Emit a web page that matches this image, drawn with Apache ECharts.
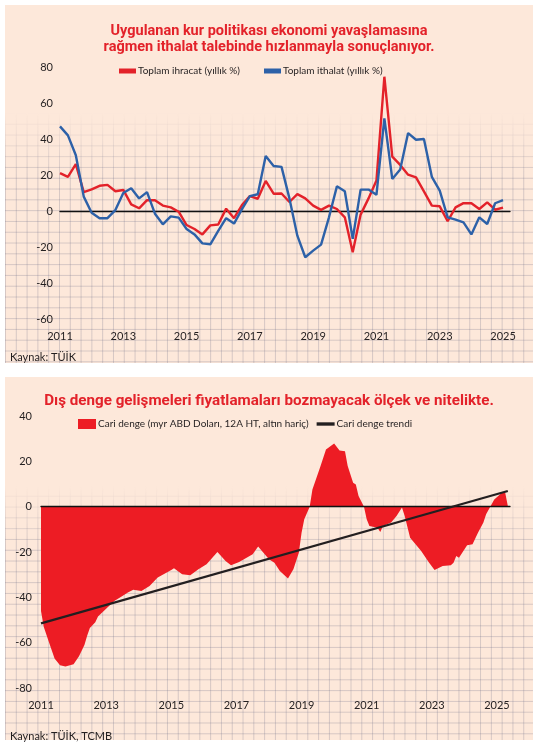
<!DOCTYPE html>
<html><head><meta charset="utf-8">
<script src="https://cdn.jsdelivr.net/npm/echarts@6/dist/echarts.min.js"></script>
<style>
html,body{margin:0;padding:0;background:#fff;width:538px;height:745px;overflow:hidden;}
.panel{position:absolute;left:5px;width:528px;background:#fde8da;overflow:hidden}
.panel::before{content:'';position:absolute;left:0;top:0;right:0;bottom:0;
 background-image:linear-gradient(to right, rgba(110,110,135,0.27) 1px, transparent 1px),linear-gradient(to bottom, rgba(110,110,135,0.27) 1px, transparent 1px);
 background-size:10.8px 10.8px;}
#p1{top:5px;height:358px}
#p2{top:377px;height:363px}
#p1::before{-webkit-mask-image:linear-gradient(to bottom,transparent 0%,transparent 30%,#000 48%);mask-image:linear-gradient(to bottom,transparent 0%,transparent 30%,#000 48%);}
#p2::before{-webkit-mask-image:linear-gradient(to bottom,transparent 0%,transparent 30%,#000 46%);mask-image:linear-gradient(to bottom,transparent 0%,transparent 30%,#000 46%);}
#chart{position:absolute;left:0;top:0;width:538px;height:745px}
</style>
</head><body>
<div class="panel" id="p1"></div>
<div class="panel" id="p2"></div>
<div id="chart"></div>
<script>
// ---- Chart 1: exports / imports, yearly % change (quarterly)
const quarters = ["2011Q1","2011Q2","2011Q3","2011Q4","2012Q1","2012Q2","2012Q3","2012Q4",
"2013Q1","2013Q2","2013Q3","2013Q4","2014Q1","2014Q2","2014Q3","2014Q4",
"2015Q1","2015Q2","2015Q3","2015Q4","2016Q1","2016Q2","2016Q3","2016Q4",
"2017Q1","2017Q2","2017Q3","2017Q4","2018Q1","2018Q2","2018Q3","2018Q4",
"2019Q1","2019Q2","2019Q3","2019Q4","2020Q1","2020Q2","2020Q3","2020Q4",
"2021Q1","2021Q2","2021Q3","2021Q4","2022Q1","2022Q2","2022Q3","2022Q4",
"2023Q1","2023Q2","2023Q3","2023Q4","2024Q1","2024Q2","2024Q3","2024Q4","2025Q1"];
const exportsYoY = [21, 19, 26, 10.5, 12, 14, 14.5, 11, 11.7, 3.7, 1.5, 6, 6, 3, 2, -0.4,
 -7.8, -10, -13, -8, -7.5, 1.3, -4, 3.3, 8.3, 6.8, 16.7, 9.6, 9.7, 5, 9.4, 7,
 3, 0.6, 3, 1.1, -3.5, -22.9, -2, 7, 16.9, 74.6, 30.2, 25.6, 20.2, 18.7, 10.9, 3,
 2.6, -5.7, 2, 4.4, 4.3, 1.1, 4.8, 0.7, 1.9];
const importsYoY = [47, 42, 31, 8, -1, -4, -4, 0.5, 10, 12.6, 7, 10.5, -1.5, -7.4, -3, -3.7,
 -10, -13, -18, -18.5, -11, -4, -7, 1, 8.3, 9.3, 30.5, 25, 24.5, 7, -13.7, -25.7,
 -22, -18.7, -3.5, 13.7, 11, -15.5, 11.9, 11.9, 9, 51.5, 17.8, 23, 43.3, 39.6, 40, 19,
 11.3, -3.5, -4.8, -6.3, -13, -3.5, -7.2, 4.3, 6.1];
const yTicks1 = [-60, -40, -20, 0, 20, 40, 60, 80];
const xTicks = [2011, 2013, 2015, 2017, 2019, 2021, 2023, 2025];

// ---- Chart 2: current account balance (bn USD, 12m rolling, excl. gold)
const months = ["2011-01","2011-02","2011-04","2011-06","2011-08","2011-10","2012-01","2012-03",
"2012-05","2012-06","2012-07","2012-09","2012-10","2013-01","2013-04","2013-07","2013-09","2013-11",
"2014-02","2014-05","2014-08","2015-01","2015-02","2015-05","2015-08","2015-11","2016-02","2016-06",
"2016-09","2016-11","2017-02","2017-07","2017-09","2018-01","2018-03","2018-05","2018-08","2018-10",
"2018-12","2019-01","2019-02","2019-04","2019-05","2019-08","2019-10","2020-01","2020-03","2020-05",
"2020-06","2020-08","2020-09","2020-10","2020-12","2021-01","2021-02","2021-05","2021-06","2021-07",
"2021-10","2021-12","2022-02","2022-03","2022-05","2022-07","2022-09","2022-12","2023-02","2023-05",
"2023-08","2023-09","2023-10","2023-11","2024-02","2024-04","2024-06","2024-08","2024-09","2024-12",
"2025-03","2025-04","2025-05"];
const currentAccount = [-46, -53, -60, -67, -70, -70.5, -69.5, -66,
 -61, -57, -53.5, -51, -48.5, -45, -41.6, -39.4, -37.9, -36.7,
 -37.2, -35, -31.3, -27.9, -27.2, -29.8, -30.3, -27.6, -25.4, -20,
 -24, -25.9, -24.4, -21, -17.6, -23.2, -24.7, -28.4, -31.7, -27.6,
 -20.3, -11.5, -5.6, 0, 7.6, 17.9, 25.2, 27.9, 24.8, 24.5,
 17.9, 10.6, 9.8, 4.7, 0, -5.6, -8.5, -9.3, -11.2, -8.5,
 -7, -4.1, -0.4, -4.1, -13.7, -16.6, -19.5, -24.7, -27.9, -26.2,
 -25.9, -24.7, -21.8, -22.5, -17, -16.6, -11.5, -7, -3.4, 3.2,
 6.4, 6.4, 0.3];
const trendMonths = ["2011-01", "2025-05"];
const trendValues = [-51.5, 6.9];
const yTicks2 = [-80, -60, -40, -20, 0, 20, 40];

const qToYear = s => Number(s.slice(0,4)) + (Number(s.slice(5)) - 1) / 4;
const mToYear = s => Number(s.slice(0,4)) + (Number(s.slice(5)) - 1) / 12;

const RED = '#e3222a', BLUE = '#2d61a8', INK = '#231f20';
const FONT = 'Lato, "Noto Sans", sans-serif';
const TFONT = 'Roboto, "Noto Sans", sans-serif';

const xLabel = v => xTicks.includes(v) ? String(v) : '';

const chart = echarts.init(document.getElementById('chart'), null, {renderer:'canvas'});
chart.setOption({
  animation:false,
  backgroundColor:'transparent',
  textStyle:{fontFamily:FONT},
  title:[
    {text:'Uygulanan kur politikası ekonomi yavaşlamasına\nrağmen ithalat talebinde hızlanmayla sonuçlanıyor.',
     left:264, top:18, textAlign:'center',
     textStyle:{color:RED, fontSize:14.5, fontWeight:'bold', fontFamily:TFONT, lineHeight:16}},
    {text:'Dış denge gelişmeleri fiyatlamaları bozmayacak ölçek ve nitelikte.',
     left:264, top:389, textAlign:'center',
     textStyle:{color:RED, fontSize:15.2, fontWeight:'bold', fontFamily:TFONT}},
    {text:'Kaynak: TÜİK', left:5, top:347, textStyle:{color:INK, fontSize:11, fontWeight:'normal', fontFamily:FONT}},
    {text:'Kaynak: TÜİK, TCMB', left:5, top:726, textStyle:{color:INK, fontSize:11, fontWeight:'normal', fontFamily:FONT}}
  ],
  legend:[
    {data:['Toplam ihracat (yıllık %)','Toplam ithalat (yıllık %)'], left:114, top:61,
     icon:'rect', itemWidth:17, itemHeight:5, itemGap:24,
     textStyle:{color:INK, fontSize:10, fontFamily:FONT, padding:[0,0,0,-3]}},
    {data:[{name:'Cari denge (myr ABD Doları, 12A HT, altın hariç)', icon:'rect'},
           {name:'Cari denge trendi', icon:'path://M0,0h16v3h-16z'}],
     left:73, top:414, itemWidth:18, itemHeight:10, itemGap:8,
     textStyle:{color:INK, fontSize:10, fontFamily:FONT, padding:[0,0,0,-3]}}
  ],
  grid:[
    {left:60, right:28, top:67, bottom:426},
    {left:41, right:28, top:416, bottom:57}
  ],
  xAxis:[
    {type:'value', gridIndex:0, min:2011, max:2025.22, interval:1,
     axisLine:{onZero:true, lineStyle:{color:'#111', width:1.3}}, axisTick:{show:false},
     splitLine:{show:false},
     axisLabel:{formatter:xLabel, color:INK, fontSize:11, margin:12, showMaxLabel:false}},
    {type:'value', gridIndex:1, min:2011, max:2025.4, interval:1, z:5,
     axisLine:{onZero:true, lineStyle:{color:'#111', width:1.3}}, axisTick:{show:false},
     splitLine:{show:false},
     axisLabel:{formatter:xLabel, color:INK, fontSize:11, margin:12, showMaxLabel:false}}
  ],
  yAxis:[
    {type:'value', gridIndex:0, min:yTicks1[0], max:yTicks1[yTicks1.length-1], interval:20,
     axisLine:{show:false}, axisTick:{show:false}, splitLine:{show:false},
     axisLabel:{color:INK, fontSize:11, margin:7}},
    {type:'value', gridIndex:1, min:yTicks2[0], max:yTicks2[yTicks2.length-1], interval:20,
     axisLine:{show:false}, axisTick:{show:false}, splitLine:{show:false},
     axisLabel:{color:INK, fontSize:11, margin:9}}
  ],
  series:[
    {name:'Toplam ihracat (yıllık %)', type:'line', xAxisIndex:0, yAxisIndex:0,
     data:quarters.map((q,i)=>[qToYear(q), exportsYoY[i]]),
     showSymbol:false, symbol:'none', lineStyle:{color:RED, width:2.4}, itemStyle:{color:RED}},
    {name:'Toplam ithalat (yıllık %)', type:'line', xAxisIndex:0, yAxisIndex:0,
     data:quarters.map((q,i)=>[qToYear(q), importsYoY[i]]),
     showSymbol:false, symbol:'none', lineStyle:{color:BLUE, width:2.4}, itemStyle:{color:BLUE}},
    {name:'Cari denge (myr ABD Doları, 12A HT, altın hariç)', type:'line', xAxisIndex:1, yAxisIndex:1,
     data:months.map((m,i)=>[mToYear(m), currentAccount[i]]),
     showSymbol:false, symbol:'none', lineStyle:{width:0, color:'#ed1c24'},
     itemStyle:{color:'#ed1c24'}, areaStyle:{color:'#ed1c24', opacity:1, origin:0}},
    {name:'Cari denge trendi', type:'line', xAxisIndex:1, yAxisIndex:1, z:6,
     data:trendMonths.map((m,i)=>[mToYear(m), trendValues[i]]),
     showSymbol:false, symbol:'none', lineStyle:{color:INK, width:2.2}, itemStyle:{color:INK}}
  ]
});
</script>
</body></html>
